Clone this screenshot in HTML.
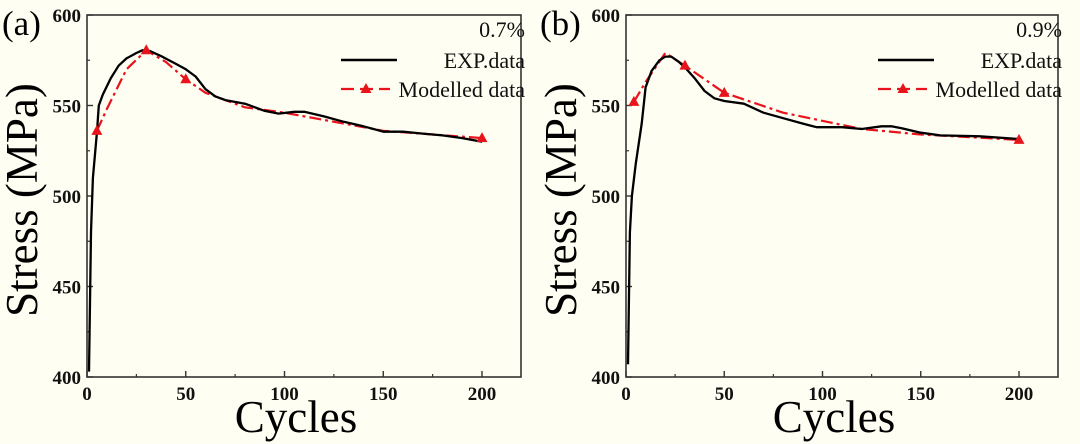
<!DOCTYPE html>
<html><head><meta charset="utf-8"><style>
html,body{margin:0;padding:0;background:#fffef2;}
svg{display:block;font-family:"Liberation Serif",serif;}
</style></head><body>
<svg id="chart" width="1080" height="444" viewBox="0 0 1080 444" xmlns="http://www.w3.org/2000/svg">
<rect width="1080" height="444" fill="#fffef2"/>
</svg>
<script>
const xTicks = [0, 50, 100, 150, 200];
const yTicks = [400, 450, 500, 550, 600];
const strainLabels = ["0.7%", "0.9%"];
const expXA = [1,2,3,5,6,8,12,16,20,25,28,32,38,45,50,55,60,65,70,80,90,97,105,110,120,130,140,150,160,170,180,190,200];
const expYA = [403,480,510,535,550,556,565,572,576,579,580.5,580,577,573,570,566,559,555,553,551,547,545.5,546.5,546.5,544,541,538.5,535.5,535.5,534.5,533.5,532,530];
const modXA = [5,10,20,30,40,50,60,80,100,150,200];
const modYA = [536,548,570,580.5,574,564.5,557,549,546,536,532];
const mkXA = [5,30,50,200];
const mkYA = [536,580.5,564.5,532];
const expXB = [1,2,3,5,8,10,13,17,20,23,27,30,35,40,45,50,60,70,80,90,97,110,120,130,135,140,150,160,180,200];
const expYB = [407,480,500,518,540,560,569,575,577,577,574,571,565,558,554,552.5,551,546,543,540,538,538,537,538.5,538.5,537.5,535,533.5,533,531.5];
const modXB = [4,10,20,30,50,80,120,150,200];
const modYB = [552,563,579,572,557,546,537,534,531];
const mkXB = [4,30,50,200];
const mkYB = [552,572,557,531];

const NS = "http://www.w3.org/2000/svg";
const svgRoot = document.getElementById('chart');
function mk(tag, attrs, parent){const e=document.createElementNS(NS,tag);for(const k in attrs)e.setAttribute(k,attrs[k]);(parent||svgRoot).appendChild(e);return e;}

const panels = [
 {left:87, right:521, x200:482, label:"(a)", lx:2, expX:expXA, expY:expYA, modX:modXA, modY:modYA, mx:mkXA, my:mkYA, name:"a"},
 {left:626, right:1058, x200:1019, label:"(b)", lx:540, expX:expXB, expY:expYB, modX:modXB, modY:modYB, mx:mkXB, my:mkYB, name:"b"}
];
const plotTop=15, plotBottom=377;
panels.forEach((p,i)=>{
  const g = mk('g',{});
  
  
  const sx = v => p.left + v*(p.x200-p.left)/200;
  const sy = v => plotBottom - (v-400)*(plotBottom-plotTop)/200;
  const fr = mk('rect',{x:p.left,y:plotTop,width:p.right-p.left,height:plotBottom-plotTop,fill:'none',stroke:'#333','stroke-width':1.6},g);
  
  
  xTicks.forEach(t=>{
    const x=sx(t);
    mk('line',{x1:x,x2:x,y1:plotBottom,y2:plotBottom-6,stroke:'#333','stroke-width':1.4},g);
    const tx=mk('text',{x:x,y:plotBottom+23,'text-anchor':'middle','font-size':19,'font-weight':'bold',fill:'#111'},g);
    tx.textContent=t;
    
    
    if(t<200){const xm=sx(t+25);mk('line',{x1:xm,x2:xm,y1:plotBottom,y2:plotBottom-3,stroke:'#333','stroke-width':1.2},g);}
  });
  yTicks.forEach(t=>{
    const y=sy(t);
    mk('line',{x1:p.left,x2:p.left+6,y1:y,y2:y,stroke:'#333','stroke-width':1.4},g);
    const tx=mk('text',{x:p.left-6,y:y+7,'text-anchor':'end','font-size':19,'font-weight':'bold',fill:'#111'},g);
    tx.textContent=t;
    
    
    if(t<600){const ym=sy(t+25);mk('line',{x1:p.left,x2:p.left+3,y1:ym,y2:ym,stroke:'#333','stroke-width':1.2},g);}
  });
  const yt=mk('text',{x:0,y:0,transform:`translate(${p.left-50},${(plotTop+plotBottom)/2+4}) rotate(-90)`,'text-anchor':'middle','font-size':45,fill:'#000'},g);
  yt.textContent='Stress (MPa)';
  
  
  const xt=mk('text',{x:(p.left+p.right)/2-8,y:432,'text-anchor':'middle','font-size':45,fill:'#000'},g);
  xt.textContent='Cycles';
  
  
  const pl=mk('text',{x:p.lx,y:35,'font-size':35,fill:'#000'},g);
  pl.textContent=p.label;
  
  
  const ed = p.expX.map((x,j)=>(j?'L':'M')+sx(x).toFixed(1)+','+sy(p.expY[j]).toFixed(1)).join('');
  const md = p.modX.map((x,j)=>(j?'L':'M')+sx(x).toFixed(1)+','+sy(p.modY[j]).toFixed(1)).join('');
  const ml=mk('path',{d:md,fill:'none',stroke:'#e8141c','stroke-width':2.2,'stroke-dasharray':'12 4 3 4','stroke-linejoin':'round'},g);
  
  
  const el=mk('path',{d:ed,fill:'none',stroke:'#000','stroke-width':2.3,'stroke-linejoin':'round'},g);
  
  
  p.mx.forEach((x,j)=>{
    const cx=sx(x), cy=sy(p.my[j]);
    const tri=mk('polygon',{points:`${cx},${cy-6} ${cx-5.5},${cy+4} ${cx+5.5},${cy+4}`,fill:'#e8141c'},g);
    
    
  });
  const lg=mk('g',{},g);
  
  
  const off = p.right-521;
  const s=mk('text',{x:p.right+4,y:37,'text-anchor':'end','font-size':22,fill:'#111'},lg);
  s.textContent=strainLabels[i];
  
  
  mk('line',{x1:341+off,x2:397+off,y1:60,y2:60,stroke:'#000','stroke-width':2.4},lg);
  const t1=mk('text',{x:p.right+4,y:68,'text-anchor':'end','font-size':22,fill:'#111'},lg);
  t1.textContent='EXP.data';
  
  
  mk('line',{x1:341+off,x2:390+off,y1:89,y2:89,stroke:'#e8141c','stroke-width':2.2,'stroke-dasharray':'13 6'},lg);
  mk('polygon',{points:`${366+off},${83} ${360.5+off},${93} ${371.5+off},${93}`,fill:'#e8141c'},lg);
  const t2=mk('text',{x:p.right+4,y:97,'text-anchor':'end','font-size':22,fill:'#111'},lg);
  t2.textContent='Modelled data';
  
  
});
</script>
</body></html>
